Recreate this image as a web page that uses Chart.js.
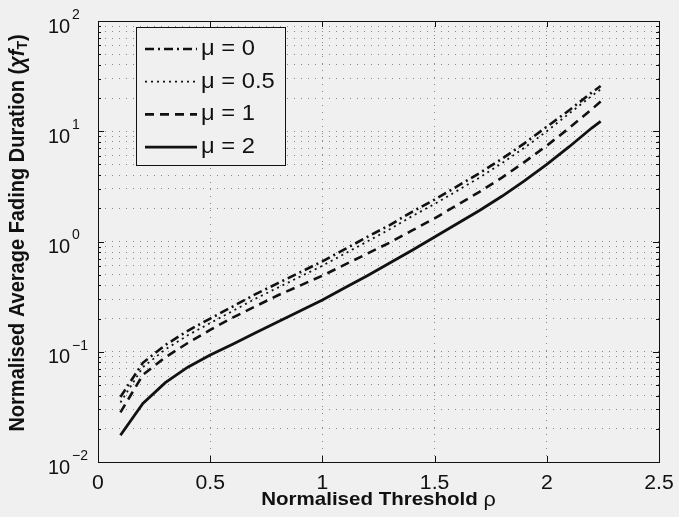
<!DOCTYPE html>
<html>
<head>
<meta charset="utf-8">
<script src="https://cdn.jsdelivr.net/npm/chart.js@4.4.1/dist/chart.umd.min.js"></script>
<style>
  html, body { margin: 0; padding: 0; background: #f0f0f0; }
  canvas { display: block; }
</style>
</head>
<body>
<canvas id="chart" width="679" height="517"></canvas>
<script>
// normalised threshold rho
const RHO = [0.1, 0.2, 0.3, 0.4, 0.5, 0.6, 0.7, 0.8, 0.9, 1.0, 1.1, 1.2,
             1.3, 1.4, 1.5, 1.6, 1.7, 1.8, 1.9, 2.0, 2.1, 2.2, 2.24];

// normalised average fading duration, one list per mu
const AFD_MU0 = [0.0389, 0.0794, 0.115, 0.155, 0.200, 0.257, 0.331, 0.417, 0.525, 0.661, 0.851, 1.10,
                 1.41, 1.86, 2.40, 3.16, 4.17, 5.62, 7.76, 11.0, 15.5, 22.4, 25.7];
const AFD_MU05 = [0.0347, 0.0724, 0.105, 0.141, 0.182, 0.234, 0.302, 0.380, 0.479, 0.603, 0.776, 1.00,
                  1.29, 1.70, 2.19, 2.88, 3.80, 5.13, 7.08, 10.0, 14.5, 20.9, 24.0];
const AFD_MU1 = [0.0282, 0.0617, 0.0891, 0.120, 0.158, 0.204, 0.257, 0.324, 0.398, 0.490, 0.617, 0.776,
                 0.977, 1.26, 1.62, 2.14, 2.82, 3.80, 5.25, 7.41, 10.7, 15.8, 18.6];
const AFD_MU2 = [0.0175, 0.0339, 0.0525, 0.0724, 0.0933, 0.117, 0.148, 0.186, 0.234, 0.295, 0.380, 0.490,
                 0.638, 0.832, 1.10, 1.45, 1.91, 2.57, 3.55, 5.01, 7.24, 10.7, 12.3];

const SERIES_LABELS = ['\u03bc = 0', '\u03bc = 0.5', '\u03bc = 1', '\u03bc = 2'];

const X_TICKS = [0, 0.5, 1, 1.5, 2, 2.5];
const X_TICK_LABELS = ['0', '0.5', '1', '1.5', '2', '2.5'];
const Y_DECADES = [0.01, 0.1, 1, 10, 100];
const Y_EXPONENTS = ['\u22122', '\u22121', '0', '1', '2'];

const FONT = '"Liberation Sans", Arial, Helvetica, sans-serif';
const INK = '#111111';
const BG = '#f0f0f0';
const WIDE = 1.08; // text in the figure runs a touch wider than the font

// log grid: 1..9 inside every decade
const Y_GRID = [];
for (let d = 0; d < Y_DECADES.length - 1; d++) {
  for (let k = 1; k <= 9; k++) Y_GRID.push(parseFloat((Y_DECADES[d] * k).toPrecision(3)));
}
Y_GRID.push(Y_DECADES[Y_DECADES.length - 1]);

const pairs = (ys) => RHO.map((x, i) => ({ x, y: ys[i] }));

const lineStyle = (dash, width) => ({
  borderColor: INK,
  borderWidth: width,
  borderDash: dash,
  borderCapStyle: 'butt',
  pointRadius: 0,
  tension: 0,
  fill: false,
});

// draws a run of differently styled pieces centred on (cx, cy), stretched by sx
function drawRun(ctx, parts, cx, cy, sx, align) {
  ctx.save();
  ctx.translate(cx, cy);
  ctx.scale(sx, 1);
  let total = 0;
  parts.forEach((p) => { ctx.font = p[1]; total += ctx.measureText(p[0]).width; });
  let x = align === 'left' ? 0 : -total / 2;
  ctx.textAlign = 'left';
  ctx.textBaseline = 'middle';
  ctx.fillStyle = INK;
  parts.forEach((p) => {
    ctx.font = p[1];
    ctx.fillText(p[0], x, p[2] || 0);
    x += ctx.measureText(p[0]).width;
  });
  ctx.restore();
}

// MATLAB-ish frame: box, inward ticks, tick labels, axis titles, boxed legend
const frame = {
  id: 'frame',
  afterDatasetsDraw(chart) {
    const { ctx, chartArea: a, scales } = chart;
    const xs = scales.x, ys = scales.y;
    ctx.save();

    ctx.strokeStyle = INK;
    ctx.lineWidth = 1;
    ctx.strokeRect(Math.round(a.left) + 0.5, Math.round(a.top) + 0.5,
                   Math.round(a.right - a.left), Math.round(a.bottom - a.top));

    ctx.beginPath();
    X_TICKS.forEach((v) => {
      const px = Math.round(xs.getPixelForValue(v)) + 0.5;
      ctx.moveTo(px, a.bottom); ctx.lineTo(px, a.bottom - 6);
      ctx.moveTo(px, a.top); ctx.lineTo(px, a.top + 6);
    });
    Y_GRID.forEach((v) => {
      const py = Math.round(ys.getPixelForValue(v)) + 0.5;
      const len = Y_DECADES.includes(v) ? 6 : 3;
      ctx.moveTo(a.left, py); ctx.lineTo(a.left + len, py);
      ctx.moveTo(a.right, py); ctx.lineTo(a.right - len, py);
    });
    ctx.stroke();

    // tick labels
    X_TICKS.forEach((v, i) => {
      drawRun(ctx, [[X_TICK_LABELS[i], '20px ' + FONT]], xs.getPixelForValue(v), a.bottom + 21, 1.06);
    });
    ctx.fillStyle = INK;
    ctx.textBaseline = 'middle';
    ctx.textAlign = 'left';
    Y_DECADES.forEach((v, i) => {
      const py = ys.getPixelForValue(v);
      ctx.font = '20px ' + FONT;
      ctx.fillText('10', 48, py + 6);
      ctx.font = '14px ' + FONT;
      ctx.fillText(Y_EXPONENTS[i], 72, py - 6);
    });

    // x title
    drawRun(ctx, [['Normalised Threshold ', 'bold 19px ' + FONT], ['\u03c1', '20px ' + FONT]],
            (a.left + a.right) / 2, 500, WIDE);

    // y title, rotated; stretch across the text height, as on screen x
    ctx.save();
    ctx.translate(18, 233);
    ctx.rotate(-Math.PI / 2);
    ctx.scale(1, 1.06);
    drawRun(ctx, [
      ['Normalised Average Fading Duration (', 'bold 20px ' + FONT],
      ['\u03c7f', 'italic bold 20px ' + FONT],
      ['T', 'bold 14px ' + FONT, 5],
      [')', 'bold 20px ' + FONT],
    ], 0, 0, 1);
    ctx.restore();

    // legend
    const lx = a.left + 38, ly = a.top + 6, lw = 149, lh = 138;
    ctx.fillStyle = BG;
    ctx.fillRect(lx, ly, lw, lh);
    ctx.strokeStyle = INK;
    ctx.lineWidth = 1;
    ctx.strokeRect(Math.round(lx) + 0.5, Math.round(ly) + 0.5, lw, lh);
    chart.data.datasets.forEach((ds, i) => {
      const ry = ly + 22 + i * 32.7;
      ctx.save();
      ctx.strokeStyle = ds.borderColor;
      ctx.lineWidth = ds.borderWidth;
      ctx.setLineDash(ds.borderDash);
      ctx.beginPath();
      ctx.moveTo(lx + 9, ry);
      ctx.lineTo(lx + 61, ry);
      ctx.stroke();
      ctx.restore();
      drawRun(ctx, [[ds.label, '22px ' + FONT]], lx + 65, ry, WIDE, 'left');
    });

    ctx.restore();
  },
};

new Chart(document.getElementById('chart'), {
  type: 'line',
  data: {
    datasets: [
      { label: SERIES_LABELS[0], data: pairs(AFD_MU0), ...lineStyle([9, 4, 2, 4], 2.6) },
      { label: SERIES_LABELS[1], data: pairs(AFD_MU05), ...lineStyle([2, 4], 1.8) },
      { label: SERIES_LABELS[2], data: pairs(AFD_MU1), ...lineStyle([9, 6], 2.6) },
      { label: SERIES_LABELS[3], data: pairs(AFD_MU2), ...lineStyle([], 2.8) },
    ],
  },
  options: {
    responsive: false,
    animation: false,
    layout: { padding: { left: 98, right: 20, top: 21, bottom: 55 } },
    plugins: { legend: { display: false }, tooltip: { enabled: false } },
    scales: {
      x: {
        type: 'linear',
        min: 0,
        max: 2.5,
        afterBuildTicks: (s) => { s.ticks = X_TICKS.map((v) => ({ value: v })); },
        ticks: { display: false },
        grid: { color: '#8a8a8a', lineWidth: 1, drawTicks: false },
        border: { display: false, dash: [1, 6] },
      },
      y: {
        type: 'logarithmic',
        min: 0.01,
        max: 100,
        afterBuildTicks: (s) => { s.ticks = Y_GRID.map((v) => ({ value: v, major: Y_DECADES.includes(v) })); },
        ticks: { display: false },
        grid: { color: '#8a8a8a', lineWidth: 1, drawTicks: false },
        border: { display: false, dash: [1, 6] },
      },
    },
  },
  plugins: [frame],
});
</script>
</body>
</html>
